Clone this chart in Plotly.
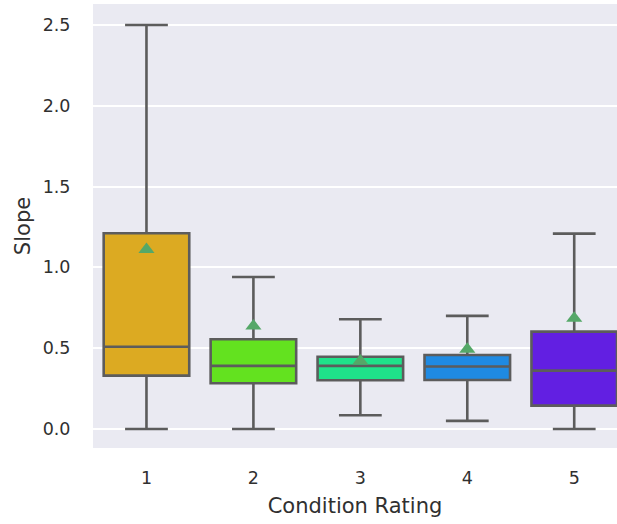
import plotly.graph_objects as go

categories = ["1", "2", "3", "4", "5"]
lower_whisker = [0.0, 0.0, 0.085, 0.05, 0.0]
q1_vals = [0.33, 0.283, 0.301, 0.303, 0.144]
median_vals = [0.509, 0.39, 0.39, 0.386, 0.361]
q3_vals = [1.211, 0.555, 0.447, 0.458, 0.602]
upper_whisker = [2.5, 0.94, 0.679, 0.70, 1.209]
mean_vals = [1.11, 0.637, 0.42, 0.493, 0.685]
box_colors = ["#dcaa22", "#63e21f", "#1fe28a", "#1f8ae2", "#621fe2"]

fig = go.Figure()
for i, cat in enumerate(categories):
    fig.add_trace(go.Box(
        x=[cat], q1=[q1_vals[i]], median=[median_vals[i]], q3=[q3_vals[i]],
        lowerfence=[lower_whisker[i]], upperfence=[upper_whisker[i]],
        fillcolor=box_colors[i], line=dict(color="#5c5c5c", width=2.6),
        width=0.8, whiskerwidth=0.5, boxpoints=False, showlegend=False,
        hoverinfo="skip",
    ))
fig.add_trace(go.Scatter(
    x=categories, y=mean_vals, mode="markers",
    marker=dict(symbol="triangle-up", size=14, color="#55a868"),
    showlegend=False,
))

font_color = "#303030"
fig.update_layout(
    width=617, height=524,
    margin=dict(l=93, r=0, t=4, b=76),
    paper_bgcolor="white", plot_bgcolor="#EAEAF2",
    boxmode="overlay",
    font=dict(family="DejaVu Sans", color=font_color),
    xaxis=dict(
        type="category", categoryorder="array", categoryarray=categories,
        range=[-0.5, 4.4], showgrid=False, zeroline=False,
        tickfont=dict(size=17.5, color=font_color),
        ticks="outside", ticklen=0, ticklabelstandoff=14,
        title=dict(text="Condition Rating", font=dict(size=21), standoff=11),
    ),
    yaxis=dict(
        range=[-0.118, 2.63], tickvals=[0, 0.5, 1.0, 1.5, 2.0, 2.5],
        tickformat=".1f", showgrid=True, gridcolor="white", gridwidth=1.5,
        zeroline=False, tickfont=dict(size=17.5, color=font_color),
        ticks="outside", ticklen=0, ticklabelstandoff=18,
        title=dict(text="Slope", font=dict(size=21), standoff=6),
    ),
)

fig.write_html("out.html")
